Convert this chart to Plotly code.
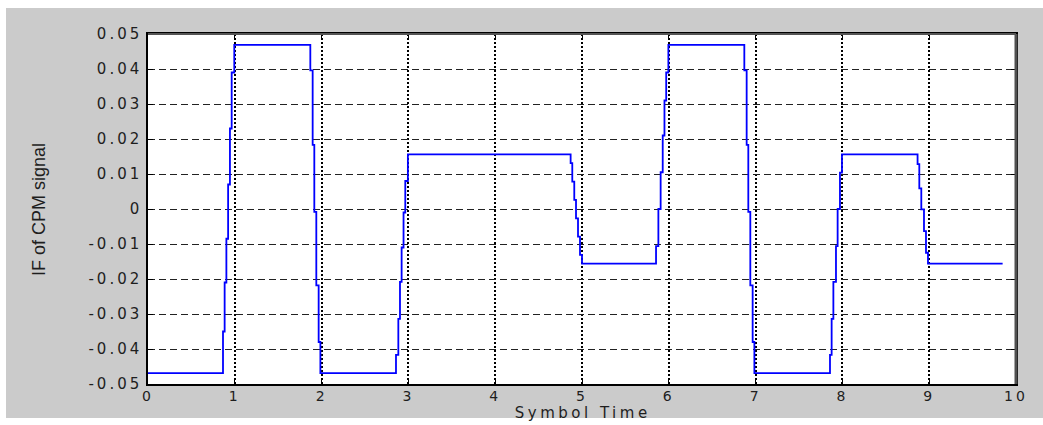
import plotly.graph_objects as go

# Breakpoints of the staircase IF signal (value holds until next time)
time_points = [
    0.000,
    0.864, 0.883, 0.903, 0.923, 0.944, 0.964, 0.994,
    1.870, 1.897, 1.916, 1.939, 1.966, 1.986,
    2.857, 2.884, 2.903, 2.922, 2.944, 2.964, 2.994,
    4.869, 4.888, 4.911, 4.931, 4.954, 4.977, 5.000,
    5.853, 5.880, 5.906, 5.930, 5.950, 5.970, 5.995,
    6.870, 6.897, 6.916, 6.939, 6.966, 6.986,
    7.857, 7.876, 7.896, 7.926, 7.945, 7.972, 7.995,
    8.866, 8.886, 8.909, 8.940, 8.963, 8.986,
    9.846,
]
if_values = [
    -0.0469,
    -0.0350, -0.0210, -0.0085, 0.0070, 0.0230, 0.0390, 0.0469,
    0.0396, 0.0183, -0.0008, -0.0218, -0.0380, -0.0469,
    -0.0417, -0.0314, -0.0208, -0.0110, -0.0010, 0.0080, 0.0156,
    0.0131, 0.0078, 0.0026, -0.0027, -0.0079, -0.0131, -0.0156,
    -0.0106, 0.0000, 0.0105, 0.0210, 0.0310, 0.0390, 0.0469,
    0.0396, 0.0183, -0.0008, -0.0218, -0.0380, -0.0469,
    -0.0417, -0.0314, -0.0208, -0.0106, 0.0000, 0.0104, 0.0156,
    0.0128, 0.0059, -0.0001, -0.0063, -0.0125, -0.0156,
    -0.0156,
]

x_tick_vals = [0, 1, 2, 3, 4, 5, 6, 7, 8, 9, 10]
x_tick_text = ["0", "1", "2", "3", "4", "5", "6", "7", "8", "9", "10"]
y_tick_vals = [0.05, 0.04, 0.03, 0.02, 0.01, 0, -0.01, -0.02, -0.03, -0.04, -0.05]
y_tick_text = ["0.05", "0.04", "0.03", "0.02", "0.01", "0", "-0.01", "-0.02", "-0.03", "-0.04", "-0.05"]

W, H = 1043, 425
L, R, T, B = 148, 27, 34, 41
pw, ph = W - L - R, H - T - B

GRAY = "#cbcbcb"
TXT = "#1e1e1e"
ytick_font = dict(family="DejaVu Sans", size=15, color=TXT)
xtick_font = dict(family="DejaVu Sans", size=14, color=TXT)

fig = go.Figure()
fig.add_trace(go.Scatter(
    x=time_points, y=if_values, mode="lines",
    line=dict(color="#0000ff", width=1.8, shape="hv"),
    showlegend=False, hoverinfo="x+y",
))

def px_x(p):
    return (p - L) / pw

def px_y(p):
    return (H - B - p) / ph

shapes = [
    # white outer strips (left, top, bottom)
    dict(type="rect", xref="paper", yref="paper", x0=px_x(0), x1=px_x(6), y0=px_y(H), y1=px_y(0),
         fillcolor="white", line=dict(width=0), layer="above"),
    dict(type="rect", xref="paper", yref="paper", x0=px_x(0), x1=px_x(W), y0=px_y(8), y1=px_y(0),
         fillcolor="white", line=dict(width=0), layer="above"),
    dict(type="rect", xref="paper", yref="paper", x0=px_x(0), x1=px_x(W), y0=px_y(H), y1=px_y(418),
         fillcolor="white", line=dict(width=0), layer="above"),
    # darker top/right borders
    dict(type="line", xref="paper", yref="paper", x0=0, x1=1, y0=1, y1=1,
         line=dict(color="#555555", width=2), layer="above"),
    dict(type="line", xref="paper", yref="paper", x0=1, x1=1, y0=0, y1=1,
         line=dict(color="#505050", width=3), layer="above"),
]

fig.update_layout(
    width=W, height=H,
    margin=dict(l=L, r=R, t=T, b=B, pad=0),
    paper_bgcolor=GRAY, plot_bgcolor="white",
    shapes=shapes,
    xaxis=dict(
        range=[0, 10], tickvals=x_tick_vals, ticktext=x_tick_text,
        ticks="inside", ticklen=5, tickwidth=1, tickcolor="black",
        showline=True, linecolor="black", linewidth=1.5, mirror="ticks",
        showgrid=True, gridcolor="black", gridwidth=2, griddash="2px,2px",
        zeroline=False, tickfont=xtick_font, ticklabelstandoff=-2,
    ),
    yaxis=dict(
        range=[-0.05, 0.05], tickvals=y_tick_vals, ticktext=y_tick_text,
        ticks="inside", ticklen=5, tickwidth=1, tickcolor="black",
        showline=True, linecolor="black", linewidth=1.5, mirror="ticks",
        showgrid=True, gridcolor="#222222", gridwidth=1, griddash="7px,4px",
        zeroline=False, tickfont=ytick_font, ticklabelstandoff=1,
    ),
    annotations=[
        dict(
            text="IF of CPM signal", textangle=-90, xref="paper", yref="paper",
            x=px_x(39), y=0.5, xanchor="center", yanchor="middle", showarrow=False,
            font=dict(family="Liberation Sans", size=18, color=TXT),
        ),
        dict(
            text="Symbol Time", xref="paper", yref="paper",
            x=0.5, y=px_y(413), xanchor="center", yanchor="middle", showarrow=False,
            font=dict(family="DejaVu Sans", size=15, color=TXT),
        ),
    ],
)

post_js = """
var gd = document.getElementById('{plot_id}');
function spaceText() {
  gd.querySelectorAll('.xtick text, .ytick text').forEach(function(t) {
    t.style.letterSpacing = '3px';
  });
  gd.querySelectorAll('.annotation-text').forEach(function(t) {
    if (t.textContent === 'Symbol Time') { t.style.letterSpacing = '3.5px'; }
  });
}
spaceText();
gd.on('plotly_afterplot', spaceText);
"""

fig.write_html("out.html", post_script=post_js)
